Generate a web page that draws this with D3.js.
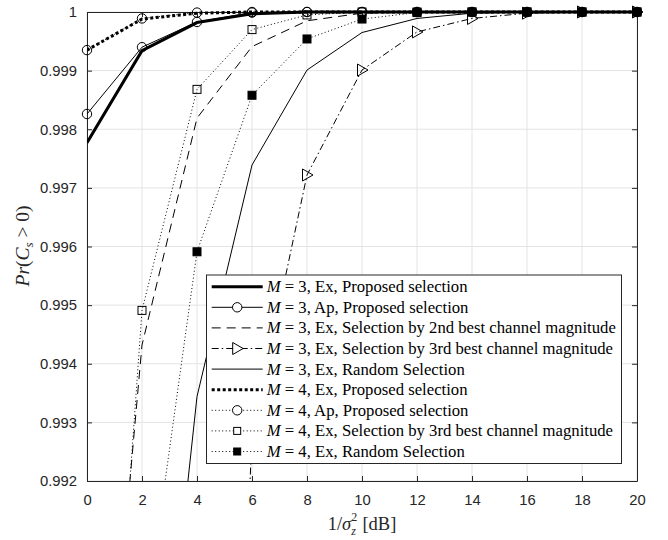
<!DOCTYPE html>
<html>
<head>
<meta charset="utf-8">
<script src="https://cdn.jsdelivr.net/npm/d3@7"></script>
<style>
body { margin: 0; background: #fff; }
svg { display: block; }
</style>
</head>
<body>
<svg id="chart" width="668" height="540"></svg>
<script>
// x values (dB)
var snrDb = [0, 2, 4, 6, 8, 10, 12, 14, 16, 18, 20];

// Pr(Cs > 0)
var m3ExProposed = [0.99777, 0.99934, 0.99982, 0.99997, 1, 1, 1, 1, 1, 1, 1];
var m3ApProposed = [0.99826, 0.99940, 0.99983, 0.99999, 1, 1, 1, 1, 1, 1, 1];
var m3Ex2ndBest  = [0.98380, 0.99432, 0.99819, 0.99941, 0.99985, 0.99998, 1, 1, 1, 1, 1];
var m3Ex3rdBest  = [0.94000, 0.95500, 0.97000, 0.99280, 0.99722, 0.99901, 0.99966, 0.99989, 0.99998, 1, 1];
var m3ExRandom   = [0.97500, 0.98471, 0.99344, 0.99739, 0.99901, 0.99965, 0.99989, 0.99998, 1, 1, 1];
var m4ExProposed = [0.99935, 0.99988, 0.99998, 1, 1, 1, 1, 1, 1, 1, 1];
var m4ApProposed = [0.99935, 0.99989, 0.99999, 1, 1, 1, 1, 1, 1, 1, 1];
var m4Ex3rdBest  = [0.98168, 0.99491, 0.99868, 0.99970, 0.99995, 1, 1, 1, 1, 1, 1];
var m4ExRandom   = [0.97800, 0.98917, 0.99591, 0.99858, 0.99954, 0.99988, 0.99999, 1, 1, 1, 1];

var xTicks = [0, 2, 4, 6, 8, 10, 12, 14, 16, 18, 20];
var yTicks = [0.992, 0.993, 0.994, 0.995, 0.996, 0.997, 0.998, 0.999, 1];
var yTickLabels = ['0.992', '0.993', '0.994', '0.995', '0.996', '0.997', '0.998', '0.999', '1'];

var legendLabels = [
	'M = 3, Ex, Proposed selection',
	'M = 3, Ap, Proposed selection',
	'M = 3, Ex, Selection by 2nd best channel magnitude',
	'M = 3, Ex, Selection by 3rd best channel magnitude',
	'M = 3, Ex, Random Selection',
	'M = 4, Ex, Proposed selection',
	'M = 4, Ap, Proposed selection',
	'M = 4, Ex, Selection by 3rd best channel magnitude',
	'M = 4, Ex, Random Selection'
];

var seriesValues = [m3ExProposed, m3ApProposed, m3Ex2ndBest, m3Ex3rdBest, m3ExRandom,
	m4ExProposed, m4ApProposed, m4Ex3rdBest, m4ExRandom];

// line look for each series, same order
var styles = [
	{w: 3, dash: null, marker: null},
	{w: 1, dash: null, marker: 'circle'},
	{w: 1, dash: '9,6', marker: null},
	{w: 1, dash: '7,3,1.5,3', marker: 'triangle'},
	{w: 1, dash: null, marker: null},
	{w: 3, dash: '3,2.5', marker: null},
	{w: 1, dash: '1,2.5', marker: 'circle'},
	{w: 1, dash: '1,2.5', marker: 'square'},
	{w: 1, dash: '1,2.5', marker: 'filled'}
];

var margin = {top: 12, right: 31, bottom: 59, left: 87},
	width = 668 - margin.left - margin.right,
	height = 540 - margin.top - margin.bottom;

var axisColor = '#262626',
	sansFont = '"Liberation Sans", Arial, sans-serif',
	serifFont = '"Liberation Serif", "Times New Roman", serif';

var x = d3.scaleLinear().domain([0, 20]).range([0, width]);
var y = d3.scaleLinear().domain([0.992, 1]).range([height, 0]);

var svg = d3.select('#chart');
var chart = svg.append('g')
	.attr('transform', 'translate(' + margin.left + ',' + margin.top + ')');

svg.append('defs').append('clipPath').attr('id', 'plot-clip')
	.append('rect')
	.attr('x', 0).attr('y', -5)
	.attr('width', width + 5).attr('height', height + 5);

// grid
chart.append('g').attr('class', 'grid')
	.selectAll('line.gx').data(xTicks).enter().append('line')
	.attr('x1', d => x(d)).attr('x2', d => x(d))
	.attr('y1', 0).attr('y2', height)
	.attr('stroke', '#e3e3e3').attr('stroke-width', 1);
chart.select('g.grid')
	.selectAll('line.gy').data(yTicks).enter().append('line')
	.attr('x1', 0).attr('x2', width)
	.attr('y1', d => y(d)).attr('y2', d => y(d))
	.attr('stroke', '#e3e3e3').attr('stroke-width', 1);

// axes, MATLAB style with inward ticks on all sides
var xAxis = d3.axisBottom(x).tickValues(xTicks).tickSizeInner(-5).tickSizeOuter(0).tickPadding(13);
var yAxis = d3.axisLeft(y).tickValues(yTicks).tickSizeInner(-5).tickSizeOuter(0).tickPadding(10)
	.tickFormat((d, i) => yTickLabels[i]);
var xTop = d3.axisTop(x).tickValues(xTicks).tickSizeInner(-5).tickSizeOuter(0).tickFormat('');
var yRight = d3.axisRight(y).tickValues(yTicks).tickSizeInner(-5).tickSizeOuter(0).tickFormat('');

var gx = chart.append('g').attr('transform', 'translate(0,' + height + ')').call(xAxis);
var gy = chart.append('g').call(yAxis);
var gt = chart.append('g').call(xTop);
var gr = chart.append('g').attr('transform', 'translate(' + width + ',0)').call(yRight);

[gx, gy, gt, gr].forEach(g => {
	g.select('.domain').attr('stroke', axisColor).attr('stroke-width', 1);
	g.selectAll('.tick line').attr('stroke', axisColor);
	g.selectAll('.tick text')
		.attr('fill', axisColor)
		.style('font-family', sansFont)
		.style('font-size', '14.8px');
});

// curves
var line = d3.line()
	.x((d, i) => x(snrDb[i]))
	.y(d => y(d));

function drawMarker(sel, type) {
	if (type === 'circle') {
		sel.append('circle').attr('r', 4.7)
			.attr('fill', 'none').attr('stroke', '#000').attr('stroke-width', 1);
	} else if (type === 'square' || type === 'filled') {
		sel.append('rect').attr('x', -4).attr('y', -4).attr('width', 8).attr('height', 8)
			.attr('fill', type === 'filled' ? '#000' : 'none')
			.attr('stroke', '#000').attr('stroke-width', 1);
	} else if (type === 'triangle') {
		sel.append('path').attr('d', 'M-4.5,-6L6,0L-4.5,6Z')
			.attr('fill', 'none').attr('stroke', '#000').attr('stroke-width', 1);
	}
}

var plot = chart.append('g');
seriesValues.forEach((vals, k) => {
	var st = styles[k];
	plot.append('path')
		.datum(vals)
		.attr('clip-path', 'url(#plot-clip)')
		.attr('d', line)
		.attr('fill', 'none')
		.attr('stroke', '#000')
		.attr('stroke-width', st.w)
		.attr('stroke-dasharray', st.dash);
	if (st.marker) {
		var pts = vals.map((v, i) => ({x: snrDb[i], v: v}))
			.filter(p => p.v >= y.domain()[0]);
		plot.append('g').selectAll('g').data(pts).enter().append('g')
			.attr('transform', p => 'translate(' + x(p.x) + ',' + y(p.v) + ')')
			.each(function() { drawMarker(d3.select(this), st.marker); });
	}
});

// axis labels
var xl = svg.append('text')
	.attr('x', 362).attr('y', 530)
	.attr('text-anchor', 'middle')
	.style('font-family', serifFont)
	.style('font-size', '18.5px')
	.attr('fill', axisColor);
xl.append('tspan').text('1/');
xl.append('tspan').style('font-style', 'italic').text('σ');
xl.append('tspan').attr('dy', -9).style('font-size', '12px').text('2');
xl.append('tspan').attr('dx', -6).attr('dy', 14).style('font-size', '12px').style('font-style', 'italic').text('z');
xl.append('tspan').attr('dx', 2).attr('dy', -5).text(' [dB]');

var yl = svg.append('text')
	.attr('transform', 'translate(29,246) rotate(-90)')
	.attr('text-anchor', 'middle')
	.style('font-family', serifFont)
	.style('font-size', '19.5px')
	.attr('fill', axisColor);
yl.append('tspan').style('font-style', 'italic').text('Pr');
yl.append('tspan').text('(');
yl.append('tspan').style('font-style', 'italic').text('C');
yl.append('tspan').attr('dy', 4).style('font-size', '13px').style('font-style', 'italic').text('s');
yl.append('tspan').attr('dy', -4).text(' > 0)');

// legend
var lg = svg.append('g').attr('class', 'legend');
var rowH = 20.6, row0 = 286.7;
lg.append('rect')
	.attr('x', 206.5).attr('y', 275)
	.attr('width', 415).attr('height', 188.5)
	.attr('fill', '#fff').attr('stroke', axisColor).attr('stroke-width', 1);

legendLabels.forEach((lab, k) => {
	var st = styles[k],
		cy = row0 + k * rowH;
	lg.append('line')
		.attr('x1', 211.7).attr('x2', 262.7)
		.attr('y1', cy).attr('y2', cy)
		.attr('stroke', '#000').attr('stroke-width', st.w)
		.attr('stroke-dasharray', st.dash);
	if (st.marker) {
		var m = lg.append('g').attr('transform', 'translate(237.2,' + cy + ')');
		if (st.marker === 'circle') {
			m.append('circle').attr('r', 4.7).attr('fill', '#fff').attr('stroke', '#000');
		} else if (st.marker === 'triangle') {
			m.append('path').attr('d', 'M-4.5,-6L6,0L-4.5,6Z').attr('fill', '#fff').attr('stroke', '#000');
		} else {
			m.append('rect').attr('x', -3.5).attr('y', -3.5).attr('width', 7).attr('height', 7)
				.attr('fill', st.marker === 'filled' ? '#000' : '#fff').attr('stroke', '#000');
		}
	}
	var t = lg.append('text')
		.attr('x', 266.7).attr('y', cy + 5.5)
		.style('font-family', serifFont)
		.style('font-size', '16.7px')
		.attr('fill', '#000');
	t.append('tspan').style('font-style', 'italic').text(lab.slice(0, 1));
	t.append('tspan').text(lab.slice(1));
});
</script>
</body>
</html>
